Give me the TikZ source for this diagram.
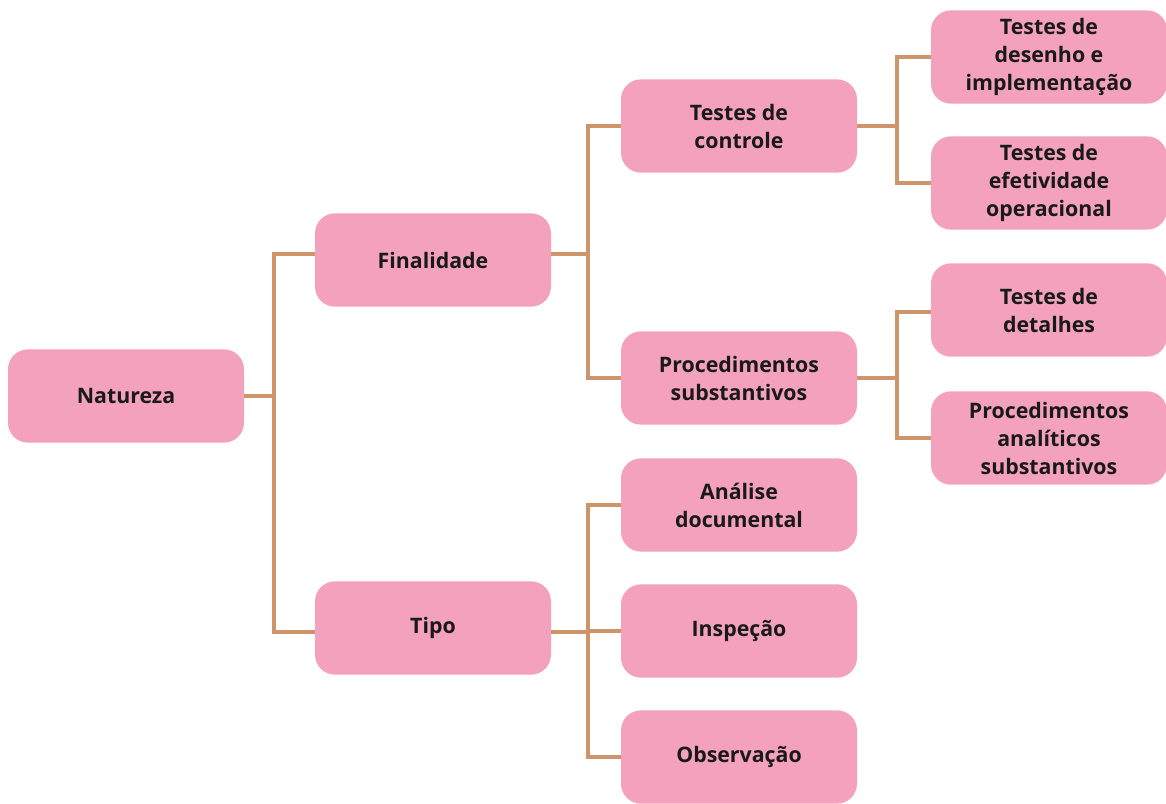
\documentclass[tikz,border=0pt]{standalone}
\usepackage{fontspec}
\setmainfont{Open Sans}
\begin{document}
\begin{tikzpicture}[x=0.75pt,y=-0.75pt,
  box/.style={draw=none,fill=boxpink,rounded corners=15pt,minimum width=177pt,minimum height=70pt,
    align=center,font=\bfseries\fontsize{16}{21}\selectfont,text=black!90,inner sep=0pt},
  link/.style={draw=linktan,line width=3pt}]
\definecolor{boxpink}{HTML}{F3A1BD}
\definecolor{linktan}{HTML}{CF956A}
\useasboundingbox (0,0) rectangle (1166,803);
\node[box] (nat) at (126,396) {Natureza};
\node[box] (fin) at (433,260) {Finalidade};
\node[box] (tip) at (433,628) {Tipo};
\node[box] (tc) at (739,126) {Testes de\\controle};
\node[box] (ps) at (739,378) {Procedimentos\\substantivos};
\node[box] (ad) at (739,505) {Análise\\documental};
\node[box] (ins) at (739,631) {Inspeção};
\node[box] (obs) at (739,757) {Observação};
\node[box] (td) at (1049,57) {Testes de\\desenho e\\implementação};
\node[box] (te) at (1049,183) {Testes de\\efetividade\\operacional};
\node[box] (tdt) at (1049,310) {Testes de\\detalhes};
\node[box] (pa) at (1049,438) {Procedimentos\\analíticos\\substantivos};
\coordinate (b1) at (274,0);
\coordinate (b2) at (588,0);
\coordinate (b3) at (897,0);
\draw[link] (nat.east) -- (nat.east -| b1) |- ([yshift=4.5pt]fin.west);
\draw[link] (nat.east -| b1) |- ([yshift=-3pt]tip.west);
\draw[link] ([yshift=4.5pt]fin.east) -- ([yshift=4.5pt]fin.east -| b2) |- (tc.west);
\draw[link] ([yshift=4.5pt]fin.east -| b2) |- (ps.west);
\draw[link] ([yshift=-3pt]tip.east) -- ([yshift=-3pt]tip.east -| b2) |- (ad.west);
\draw[link] ([yshift=-3pt]tip.east -| b2) |- (ins.west);
\draw[link] ([yshift=-3pt]tip.east -| b2) |- (obs.west);
\draw[link] (tc.east) -- (tc.east -| b3) |- (td.west);
\draw[link] (tc.east -| b3) |- (te.west);
\draw[link] (ps.east) -- (ps.east -| b3) |- ([yshift=-1.5pt]tdt.west);
\draw[link] (ps.east -| b3) |- (pa.west);
\end{tikzpicture}
\end{document}
